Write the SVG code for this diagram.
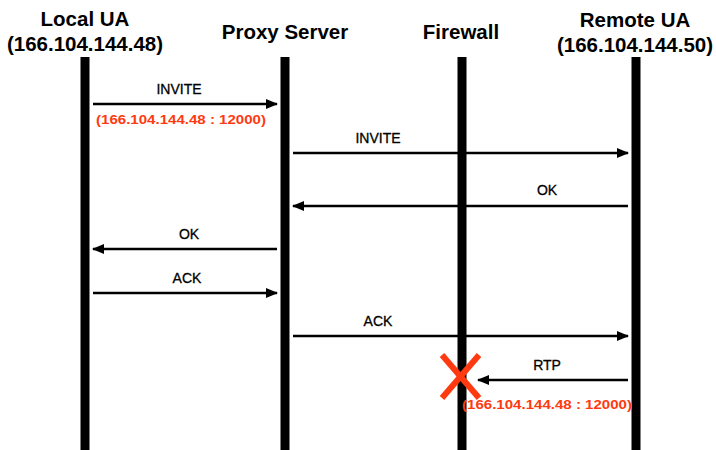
<svg xmlns="http://www.w3.org/2000/svg" width="716" height="450" viewBox="0 0 716 450">
<style>
.title{font-family:"Liberation Sans",Arial,sans-serif;font-weight:bold;font-size:20.5px;fill:#000;text-anchor:middle}
.lbl{font-family:"Liberation Sans",Arial,sans-serif;font-size:14px;fill:#000;text-anchor:middle;stroke:#000;stroke-width:0.3}
.addr{font-family:"Liberation Sans",Arial,sans-serif;font-weight:bold;font-size:13px;fill:#ff3a10;text-anchor:middle}
.life{stroke:#000;stroke-width:9}
.msg{stroke:#000;stroke-width:2.5;fill:none;marker-end:url(#ah)}
</style>
<defs>
<marker id="ah" markerWidth="12" markerHeight="10" refX="11" refY="5" orient="auto" markerUnits="userSpaceOnUse">
<path d="M0,0 L12,5 L0,10 Z" fill="#000"/>
</marker>
</defs>
<rect width="716" height="450" fill="#fff"/>
<g id="local-ua">
<text class="title" x="85" y="26">Local UA</text>
<text class="title" x="85" y="51">(166.104.144.48)</text>
<line class="life" x1="85" y1="57" x2="85" y2="450"/>
</g>
<g id="proxy-server">
<text class="title" x="285" y="39">Proxy Server</text>
<line class="life" x1="285" y1="57" x2="285" y2="450"/>
</g>
<g id="firewall">
<text class="title" x="461" y="39">Firewall</text>
<line class="life" x1="462" y1="57" x2="462" y2="450"/>
</g>
<g id="remote-ua">
<text class="title" x="635" y="27">Remote UA</text>
<text class="title" x="635" y="52">(166.104.144.50)</text>
<line class="life" x1="636" y1="57" x2="636" y2="450"/>
</g>
<g id="connectors">
<line class="msg" x1="93" y1="104" x2="277" y2="104"/>
<text class="lbl" x="179" y="94">INVITE</text>
<text class="addr" x="181" y="124" textLength="170" lengthAdjust="spacingAndGlyphs">(166.104.144.48 : 12000)</text>
<line class="msg" x1="293" y1="153" x2="628" y2="153"/>
<text class="lbl" x="378" y="143">INVITE</text>
<line class="msg" x1="628" y1="206" x2="293" y2="206"/>
<text class="lbl" x="547" y="195">OK</text>
<line class="msg" x1="277" y1="249" x2="93" y2="249"/>
<text class="lbl" x="189" y="239">OK</text>
<line class="msg" x1="93" y1="293" x2="277" y2="293"/>
<text class="lbl" x="187" y="283">ACK</text>
<line class="msg" x1="293" y1="336" x2="628" y2="336"/>
<text class="lbl" x="378" y="326">ACK</text>
<line class="msg" x1="628" y1="380" x2="478" y2="380"/>
<text class="lbl" x="547" y="370">RTP</text>
<text class="addr" x="547" y="409" textLength="170" lengthAdjust="spacingAndGlyphs">(166.104.144.48 : 12000)</text>
<g id="blocked" stroke="#ff3a10" stroke-width="6">
<line x1="442" y1="355" x2="479" y2="398"/>
<line x1="479" y1="355" x2="442" y2="398"/>
</g>
</g>
</svg>
